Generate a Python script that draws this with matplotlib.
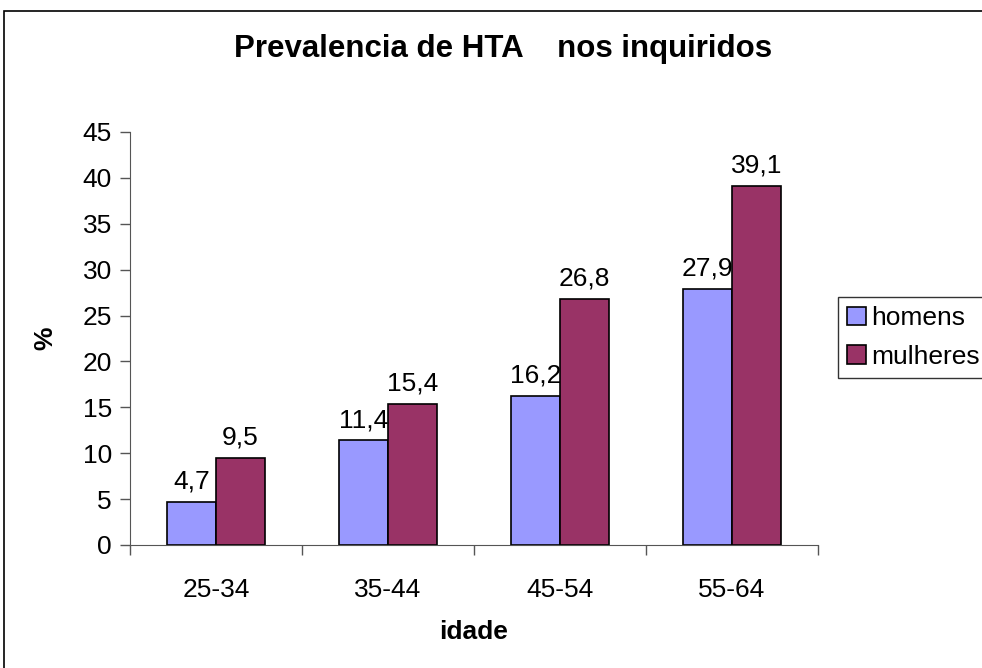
import matplotlib.pyplot as plt
import numpy as np
from matplotlib.patches import Rectangle

plt.rcParams['font.family'] = ['Liberation Sans', 'DejaVu Sans']

categories = ['25-34', '35-44', '45-54', '55-64']
homens = [4.7, 11.4, 16.2, 27.9]
mulheres = [9.5, 15.4, 26.8, 39.1]
series_names = ['homens', 'mulheres']
colors = {'homens': '#9999FF', 'mulheres': '#993366'}

fs = 19

fig = plt.figure(figsize=(9.82, 6.68), dpi=100)
ax = fig.add_axes([130 / 982, 1 - 545 / 668, 688 / 982, 413 / 668])

x = np.arange(len(categories))
w = 0.285
b1 = ax.bar(x - w / 2, homens, w, color=colors['homens'], edgecolor='black', linewidth=1.2, label=series_names[0])
b2 = ax.bar(x + w / 2, mulheres, w, color=colors['mulheres'], edgecolor='black', linewidth=1.2, label=series_names[1])

for bars, vals in ((b1, homens), (b2, mulheres)):
    for r, v in zip(bars, vals):
        ax.annotate(str(v).replace('.', ','), (r.get_x() + r.get_width() / 2, v),
                    xytext=(0, 6), textcoords='offset points', ha='center', va='bottom', fontsize=fs)

ax.set_xlim(-0.5, len(categories) - 0.5)
ax.set_ylim(0, 45)
ax.set_yticks(range(0, 46, 5))
ax.tick_params(axis='y', labelsize=fs, length=7, width=1, direction='out', pad=6, color='#555555')
ax.set_xticks(x)
ax.set_xticklabels(categories)
ax.set_xticks(np.arange(-0.5, len(categories)), minor=True)
ax.tick_params(axis='x', which='major', length=0, labelsize=fs, pad=24)
ax.tick_params(axis='x', which='minor', length=7, width=1, color='#555555')
ax.spines['top'].set_visible(False)
ax.spines['right'].set_visible(False)
ax.spines['left'].set_color('#555555')
ax.spines['bottom'].set_color('#555555')

ax.set_xlabel('idade', fontsize=fs, fontweight='bold')
ax.set_ylabel('%', fontsize=fs, fontweight='bold')
ax.xaxis.set_label_coords(0.5, -(632 - 545) / 413)
ax.yaxis.set_label_coords(-(130 - 45) / 688, 0.5)
ax.xaxis.label.set_va('center')
ax.yaxis.label.set_va('center')

fig.text(503 / 982, 1 - 57 / 668, 'Prevalencia de HTA    nos inquiridos', ha='center', va='baseline',
         fontsize=22.5, fontweight='bold')

leg = ax.legend(loc='upper left', bbox_to_anchor=(838 / 982, 1 - 297 / 668), bbox_transform=fig.transFigure,
                fontsize=fs, frameon=True, fancybox=False, edgecolor='black', handlelength=0.7,
                handleheight=0.7, handletextpad=0.2, borderpad=0.35, labelspacing=0.55, borderaxespad=0)
leg.get_frame().set_linewidth(1)

fig.patches.append(Rectangle((4 / 982, -0.1), 1.2, 1 - 11 / 668 + 0.1, transform=fig.transFigure,
                             fill=False, edgecolor='black', linewidth=1.2))

fig.savefig('out.png', dpi=100)
